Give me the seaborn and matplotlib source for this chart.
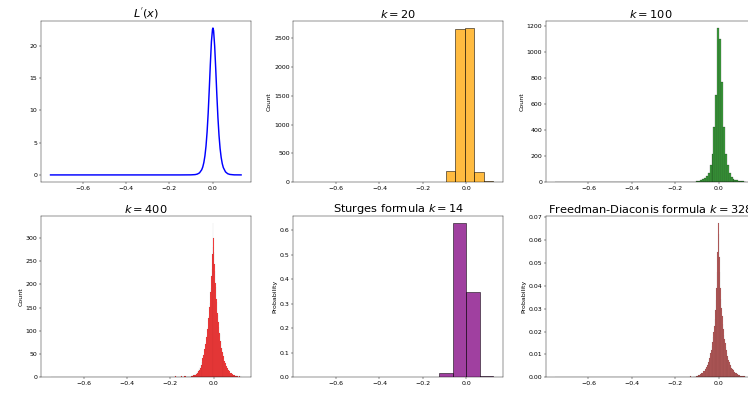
import numpy as np
import seaborn as sns
import matplotlib.pyplot as plt

# range of the sample, every histogram is binned over it
data_min = -0.753
data_max = 0.126

# L'(x)
curve_x = [-0.748, -0.5, -0.3, -0.15, -0.1, -0.08, -0.07, -0.06, -0.05, -0.045,
           -0.04, -0.035, -0.03, -0.025, -0.02, -0.015, -0.01, -0.005, 0.0, 0.002,
           0.005, 0.01, 0.015, 0.02, 0.025, 0.03, 0.035, 0.04, 0.045, 0.05,
           0.06, 0.07, 0.08, 0.1, 0.132]
curve_y = [0.0, 0.0, 0.0, 0.0, 0.01, 0.05, 0.13, 0.32, 0.79, 1.22,
           1.91, 2.94, 4.45, 6.64, 9.53, 13.2, 17.1, 20.6, 22.5, 22.7,
           22.3, 19.9, 16.3, 12.4, 8.9, 6.13, 4.1, 2.7, 1.75, 1.13,
           0.47, 0.19, 0.075, 0.01, 0.002]

# k = 20, counts from bin 14 on
k20_first = 14
k20_counts = [12, 202, 2665, 2670, 184, 23]

# k = 100, counts from bin 66 on
k100_first = 66
k100_counts = [1, 1, 1, 2, 2, 3, 4, 5, 7, 10,
               15, 24, 35, 45, 70, 130, 220, 425, 667, 1180,
               1095, 770, 425, 220, 130, 68, 42, 28, 20, 14,
               10, 8, 6, 5]

# k = 400, counts from bin 300 on, plus stray bins further left
k400_first = 300
k400_counts = [4, 6, 4, 7, 6, 9, 8, 11, 10, 14, 13, 17, 16, 22, 21, 27, 26, 33, 32, 41,
               40, 49, 50, 60, 61, 72, 75, 86, 90, 104, 108, 127, 131, 152, 160, 184, 193,
               218, 232, 266, 281, 331,
               300, 270, 243, 229, 203, 195, 168, 163, 139, 133,
               118, 109, 96, 94, 79, 77, 64, 64, 55, 53,
               43, 45, 35, 36, 29, 30, 23, 24, 19, 20,
               15, 16, 12, 13, 9, 10, 7, 9, 6, 7,
               5, 6, 4, 6, 4, 5, 3, 4, 3, 4,
               2, 3, 1, 2, 2, 1, 1, 2]
k400_tail_bins = [249, 255, 262, 265, 270, 274, 278, 281, 283, 286,
                  288, 290, 292, 294, 295, 296, 297, 298, 299]
k400_tail_counts = [1, 1, 2, 1, 1, 2, 1, 2, 2, 2,
                    3, 2, 3, 3, 2, 3, 4, 3, 4]

# Sturges, k = 14, probabilities from bin 10 on
sturges_k = 14
sturges_first = 10
sturges_probs = [0.016, 0.626, 0.349, 0.007]

# Freedman-Diaconis, k = 328, probabilities from bin 245 on
fd_k = 328
fd_first = 245
fd_probs = [0.0009, 0.0010, 0.0011, 0.0012, 0.0013,
            0.0015, 0.0017, 0.0019, 0.0021, 0.0023, 0.0026, 0.0029, 0.0033, 0.0037, 0.0042,
            0.0047, 0.0053, 0.0060, 0.0068, 0.0076, 0.0086, 0.0097, 0.0109, 0.0123, 0.0139,
            0.0157, 0.0178, 0.0202, 0.0230, 0.0262, 0.0300, 0.0345, 0.0400, 0.0470, 0.0560,
            0.0688,
            0.0640, 0.0540, 0.0470, 0.0400, 0.0350, 0.0310, 0.0272, 0.0240, 0.0215, 0.0190,
            0.0170, 0.0152, 0.0137, 0.0120, 0.0108, 0.0096, 0.0086, 0.0077, 0.0068, 0.0061,
            0.0054, 0.0049, 0.0043, 0.0039, 0.0035, 0.0031, 0.0028, 0.0025, 0.0022, 0.0020,
            0.0018, 0.0016, 0.0014, 0.0013, 0.0011, 0.0010, 0.0009, 0.0008, 0.0007, 0.0007,
            0.0006, 0.0005, 0.0005, 0.0004, 0.0004, 0.0004, 0.0003]
fd_tail_bins = [204, 210, 217, 221, 225, 229, 232, 235, 238, 240, 242, 243, 244]
fd_tail_probs = [0.0002, 0.0002, 0.0003, 0.0002, 0.0003, 0.0003, 0.0004,
                 0.0003, 0.0004, 0.0005, 0.0005, 0.0006, 0.0007]


def bin_centers(k, bins):
    width = (data_max - data_min) / k
    return data_min + width * (np.asarray(bins) + 0.5)


def hist(ax, k, bins, weights, stat, color, title):
    sns.histplot(x=bin_centers(k, bins), weights=weights, bins=k,
                 binrange=(data_min, data_max), stat=stat, color=color, ax=ax)
    pad = 0.05 * (data_max - data_min)
    ax.set_xlim(data_min - pad, data_max + pad)
    ax.set_title(title, fontsize=22)


dpi = 37.4
plt.rcParams['xtick.labelsize'] = 12
plt.rcParams['ytick.labelsize'] = 12
plt.rcParams['axes.labelsize'] = 12

fig, axes = plt.subplots(2, 3, figsize=(748 / dpi, 394 / dpi), dpi=dpi)
fig.subplots_adjust(left=0.0548, right=1.0099, top=0.9475, bottom=0.0424,
                    wspace=0.204, hspace=0.207)

# Derivative curve
ax = axes[0, 0]
sns.lineplot(x=curve_x, y=curve_y, color='blue', linewidth=2.8, ax=ax)
ax.set_title(r"$L^{'}(x)$", fontsize=22)

# Fixed bin counts
hist(axes[0, 1], 20, np.arange(k20_first, k20_first + len(k20_counts)), k20_counts,
     'count', 'orange', r"$k = 20$")
hist(axes[0, 2], 100, np.arange(k100_first, k100_first + len(k100_counts)), k100_counts,
     'count', 'green', r"$k = 100$")
hist(axes[1, 0], 400,
     k400_tail_bins + list(range(k400_first, k400_first + len(k400_counts))),
     k400_tail_counts + k400_counts, 'count', 'red', r"$k = 400$")

# Rule-of-thumb bin counts
hist(axes[1, 1], sturges_k, np.arange(sturges_first, sturges_first + len(sturges_probs)),
     sturges_probs, 'probability', 'purple', r"Sturges formula $k = 14$")
hist(axes[1, 2], fd_k,
     fd_tail_bins + list(range(fd_first, fd_first + len(fd_probs))),
     fd_tail_probs + fd_probs, 'probability', 'brown',
     r"Freedman-Diaconis formula $k = 328$")

fig.savefig('out.png', dpi=dpi)
